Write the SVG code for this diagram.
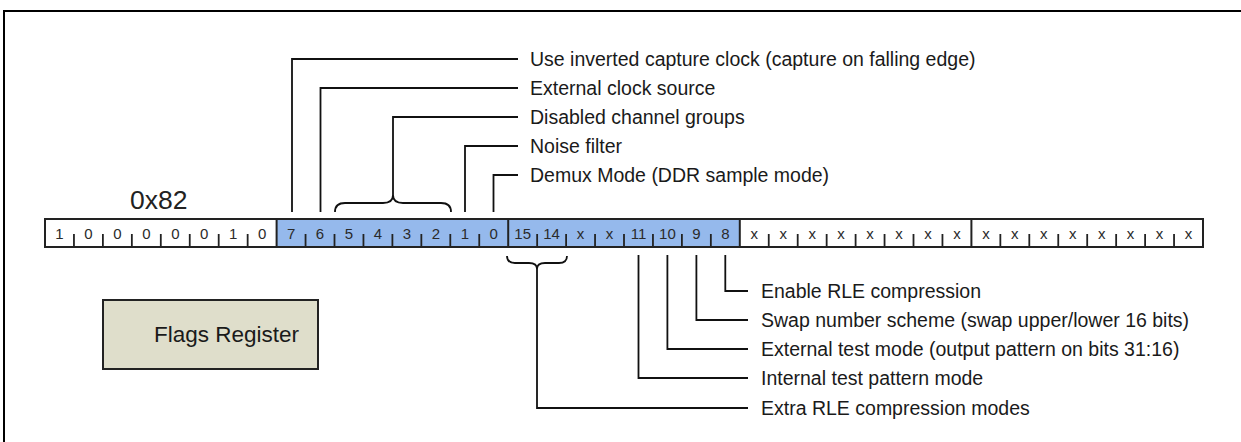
<svg xmlns="http://www.w3.org/2000/svg" width="1241" height="442" viewBox="0 0 1241 442">
<style>
.lbl{font-family:"Liberation Sans",Arial,sans-serif;font-size:19.5px;fill:#1a1a1a}
.bit{font-family:"Liberation Sans",Arial,sans-serif;font-size:15px;fill:#2a2a2a;text-anchor:middle}
.ln{fill:none;stroke:#111;stroke-width:1.8}
.tick{stroke:#222;stroke-width:1.8}
.div{stroke:#222;stroke-width:2}
</style>
<rect width="1241" height="442" fill="#fff"/>
<path d="M4,442 V11 H1241" fill="none" stroke="#000" stroke-width="2"/>

<g id="hex-label"><text x="130" y="209" font-family="Liberation Sans, Arial, sans-serif" font-size="26.5" fill="#222">0x82</text></g>

<g id="register">
<rect x="45" y="219" width="1158" height="28" fill="#fff"/>
<rect x="276.6" y="219" width="463.2" height="28" fill="#95b9ec"/>
<g class="tick">
<line x1="73.95" y1="234" x2="73.95" y2="247"/><line x1="102.9" y1="234" x2="102.9" y2="247"/><line x1="131.85" y1="234" x2="131.85" y2="247"/><line x1="160.8" y1="234" x2="160.8" y2="247"/><line x1="189.75" y1="234" x2="189.75" y2="247"/><line x1="218.7" y1="234" x2="218.7" y2="247"/><line x1="247.65" y1="234" x2="247.65" y2="247"/>
<line x1="305.55" y1="234" x2="305.55" y2="247"/><line x1="334.5" y1="234" x2="334.5" y2="247"/><line x1="363.45" y1="234" x2="363.45" y2="247"/><line x1="392.4" y1="234" x2="392.4" y2="247"/><line x1="421.35" y1="234" x2="421.35" y2="247"/><line x1="450.3" y1="234" x2="450.3" y2="247"/><line x1="479.25" y1="234" x2="479.25" y2="247"/>
<line x1="537.15" y1="234" x2="537.15" y2="247"/><line x1="566.1" y1="234" x2="566.1" y2="247"/><line x1="595.05" y1="234" x2="595.05" y2="247"/><line x1="624" y1="234" x2="624" y2="247"/><line x1="652.95" y1="234" x2="652.95" y2="247"/><line x1="681.9" y1="234" x2="681.9" y2="247"/><line x1="710.85" y1="234" x2="710.85" y2="247"/>
<line x1="768.75" y1="234" x2="768.75" y2="247"/><line x1="797.7" y1="234" x2="797.7" y2="247"/><line x1="826.65" y1="234" x2="826.65" y2="247"/><line x1="855.6" y1="234" x2="855.6" y2="247"/><line x1="884.55" y1="234" x2="884.55" y2="247"/><line x1="913.5" y1="234" x2="913.5" y2="247"/><line x1="942.45" y1="234" x2="942.45" y2="247"/>
<line x1="1000.35" y1="234" x2="1000.35" y2="247"/><line x1="1029.3" y1="234" x2="1029.3" y2="247"/><line x1="1058.25" y1="234" x2="1058.25" y2="247"/><line x1="1087.2" y1="234" x2="1087.2" y2="247"/><line x1="1116.15" y1="234" x2="1116.15" y2="247"/><line x1="1145.1" y1="234" x2="1145.1" y2="247"/><line x1="1174.05" y1="234" x2="1174.05" y2="247"/>
</g>
<g class="div">
<line x1="276.6" y1="219" x2="276.6" y2="247"/><line x1="508.2" y1="219" x2="508.2" y2="247"/><line x1="739.8" y1="219" x2="739.8" y2="247"/><line x1="971.4" y1="219" x2="971.4" y2="247"/>
</g>
<rect x="45" y="219" width="1158" height="28" fill="none" stroke="#222" stroke-width="2"/>
<g class="bit">
<text x="59.5" y="239">1</text><text x="88.4" y="239">0</text><text x="117.4" y="239">0</text><text x="146.3" y="239">0</text><text x="175.3" y="239">0</text><text x="204.2" y="239">0</text><text x="233.2" y="239">1</text><text x="262.1" y="239">0</text>
<text x="291.1" y="239">7</text><text x="320" y="239">6</text><text x="349" y="239">5</text><text x="377.9" y="239">4</text><text x="406.9" y="239">3</text><text x="435.8" y="239">2</text><text x="464.8" y="239">1</text><text x="493.7" y="239">0</text>
<text x="522.7" y="239">15</text><text x="551.6" y="239">14</text><text x="580.6" y="239">x</text><text x="609.5" y="239">x</text><text x="638.5" y="239">11</text><text x="667.4" y="239">10</text><text x="696.4" y="239">9</text><text x="725.3" y="239">8</text>
<text x="754.3" y="239">x</text><text x="783.2" y="239">x</text><text x="812.2" y="239">x</text><text x="841.1" y="239">x</text><text x="870.1" y="239">x</text><text x="899" y="239">x</text><text x="928" y="239">x</text><text x="956.9" y="239">x</text>
<text x="985.9" y="239">x</text><text x="1014.8" y="239">x</text><text x="1043.8" y="239">x</text><text x="1072.7" y="239">x</text><text x="1101.7" y="239">x</text><text x="1130.6" y="239">x</text><text x="1159.6" y="239">x</text><text x="1188.5" y="239">x</text>
</g>
</g>

<g id="flags-register">
<rect x="103" y="300" width="215" height="69" fill="#dfdecb" stroke="#222" stroke-width="2"/>
<text x="154" y="342" font-family="Liberation Sans, Arial, sans-serif" font-size="22.5" fill="#1a1a1a">Flags Register</text>
</g>

<g id="connectors" class="ln">
<path d="M292,212 V59 H518"/>
<path d="M320.5,212 V88 H518"/>
<path d="M335,212 Q335,203 345,203 H383 Q393,203 393,195 Q393,203 403,203 H441 Q451,203 451,212"/>
<path d="M393,195 V117 H518"/>
<path d="M465,212 V146 H518"/>
<path d="M493.5,212 V175 H518"/>
<path d="M725.3,255 V291 H748"/>
<path d="M696.4,255 V320 H748"/>
<path d="M667.4,255 V349 H748"/>
<path d="M638.5,255 V378 H748"/>
<path d="M507,256 Q507,263 515,263 H529 Q537,263 537,269 Q537,263 545,263 H559 Q567,263 567,256"/>
<path d="M537,269 V408 H748"/>
</g>

<g id="labels" class="lbl">
<text x="530" y="66">Use inverted capture clock (capture on falling edge)</text>
<text x="530" y="95">External clock source</text>
<text x="530" y="124">Disabled channel groups</text>
<text x="530" y="153">Noise filter</text>
<text x="530" y="182">Demux Mode (DDR sample mode)</text>
<text x="761" y="298">Enable RLE compression</text>
<text x="761" y="327">Swap number scheme (swap upper/lower 16 bits)</text>
<text x="761" y="356">External test mode (output pattern on bits 31:16)</text>
<text x="761" y="385">Internal test pattern mode</text>
<text x="761" y="415">Extra RLE compression modes</text>
</g>
</svg>
